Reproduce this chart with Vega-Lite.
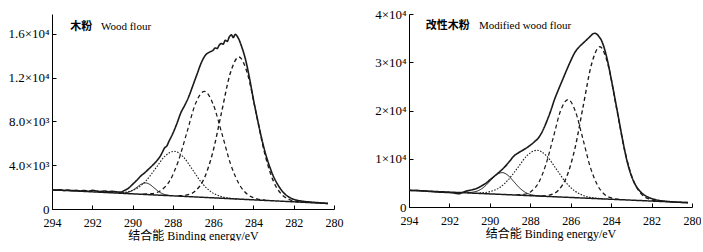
{
  "$schema": "https://vega.github.io/schema/vega-lite/v6.json",
  "background": "white",
  "padding": {"left": 7, "top": 8, "right": 0, "bottom": 0},
  "spacing": 75,
  "bounds": "flush",
  "config": {
    "view": {"stroke": null},
    "axis": {
      "grid": false, "domainColor": "#000", "tickColor": "#000", "domainWidth": 1, "tickWidth": 1, "labelFlush": false,
      "labelFont": "Liberation Serif, Times New Roman, serif", "labelFontSize": 12, "labelColor": "#000",
      "titleFont": "Liberation Serif, Times New Roman, Noto Sans CJK SC, serif", "titleFontWeight": "normal", "titleFontSize": 12, "titleColor": "#000"
    },
    "line": {"color": "#1a1a1a", "interpolate": "monotone"}
  },
  "datasets": {
    "wood": [
      {"s":"raw","E":294,"I":1760},{"s":"raw","E":293.8,"I":1720},{"s":"raw","E":293.6,"I":1750},{"s":"raw","E":293.4,"I":1690},{"s":"raw","E":293.2,"I":1730},{"s":"raw","E":293.0,"I":1680},{"s":"raw","E":292.8,"I":1700},{"s":"raw","E":292.6,"I":1640},{"s":"raw","E":292.4,"I":1690},{"s":"raw","E":292.2,"I":1620},{"s":"raw","E":292.0,"I":1700},{"s":"raw","E":291.8,"I":1650},{"s":"raw","E":291.6,"I":1600},{"s":"raw","E":291.4,"I":1640},{"s":"raw","E":291.2,"I":1580},{"s":"raw","E":291.0,"I":1610},{"s":"raw","E":290.8,"I":1560},{"s":"raw","E":290.6,"I":1540},{"s":"raw","E":290.4,"I":1700},{"s":"raw","E":290.2,"I":1900},{"s":"raw","E":290.0,"I":2250},{"s":"raw","E":289.8,"I":2600},{"s":"raw","E":289.6,"I":3000},{"s":"raw","E":289.4,"I":3300},{"s":"raw","E":289.2,"I":3650},{"s":"raw","E":289.0,"I":4000},{"s":"raw","E":288.8,"I":4400},{"s":"raw","E":288.6,"I":4900},{"s":"raw","E":288.4,"I":5600},{"s":"raw","E":288.3,"I":5750},{"s":"raw","E":288.2,"I":6150},{"s":"raw","E":288.0,"I":6900},{"s":"raw","E":287.8,"I":7800},{"s":"raw","E":287.6,"I":8800},{"s":"raw","E":287.4,"I":9500},{"s":"raw","E":287.2,"I":10300},{"s":"raw","E":287.0,"I":11300},{"s":"raw","E":286.8,"I":12300},{"s":"raw","E":286.6,"I":13300},{"s":"raw","E":286.4,"I":14000},{"s":"raw","E":286.2,"I":14300},{"s":"raw","E":286.0,"I":14500},{"s":"raw","E":285.9,"I":14700},{"s":"raw","E":285.8,"I":14650},{"s":"raw","E":285.7,"I":14950},{"s":"raw","E":285.6,"I":15100},{"s":"raw","E":285.5,"I":15050},{"s":"raw","E":285.4,"I":15400},{"s":"raw","E":285.3,"I":15300},{"s":"raw","E":285.2,"I":15700},{"s":"raw","E":285.1,"I":15900},{"s":"raw","E":285.0,"I":15650},{"s":"raw","E":284.9,"I":15950},{"s":"raw","E":284.8,"I":15750},{"s":"raw","E":284.7,"I":15400},{"s":"raw","E":284.6,"I":14900},{"s":"raw","E":284.4,"I":13700},{"s":"raw","E":284.2,"I":12000},{"s":"raw","E":284.0,"I":10000},{"s":"raw","E":283.8,"I":8200},{"s":"raw","E":283.6,"I":6500},{"s":"raw","E":283.4,"I":5050},{"s":"raw","E":283.2,"I":3900},{"s":"raw","E":283.0,"I":2950},{"s":"raw","E":282.8,"I":2250},{"s":"raw","E":282.6,"I":1700},{"s":"raw","E":282.4,"I":1300},{"s":"raw","E":282.2,"I":1050},{"s":"raw","E":282.0,"I":880},{"s":"raw","E":281.6,"I":720},{"s":"raw","E":281.2,"I":640},{"s":"raw","E":280.8,"I":580},{"s":"raw","E":280.3,"I":510},
      {"s":"base","E":294,"I":1749},{"s":"base","E":280.3,"I":500},
      {"s":"p1","E":281.71,"I":658},{"s":"p1","E":282.14,"I":812},{"s":"p1","E":282.57,"I":1276},{"s":"p1","E":283.0,"I":2501},{"s":"p1","E":283.43,"I":4996},{"s":"p1","E":283.86,"I":8691},{"s":"p1","E":284.29,"I":12310},{"s":"p1","E":284.72,"I":13873},{"s":"p1","E":285.15,"I":12388},{"s":"p1","E":285.58,"I":8847},{"s":"p1","E":286.01,"I":5231},{"s":"p1","E":286.44,"I":2815},{"s":"p1","E":286.87,"I":1668},{"s":"p1","E":287.3,"I":1282},{"s":"p1","E":287.73,"I":1206},
      {"s":"p2","E":283.39,"I":803},{"s":"p2","E":283.82,"I":928},{"s":"p2","E":284.26,"I":1286},{"s":"p2","E":284.69,"I":2210},{"s":"p2","E":285.13,"I":4083},{"s":"p2","E":285.56,"I":6851},{"s":"p2","E":286.0,"I":9563},{"s":"p2","E":286.43,"I":10739},{"s":"p2","E":286.87,"I":9642},{"s":"p2","E":287.3,"I":7009},{"s":"p2","E":287.74,"I":4321},{"s":"p2","E":288.17,"I":2528},{"s":"p2","E":288.61,"I":1683},{"s":"p2","E":289.04,"I":1404},{"s":"p2","E":289.48,"I":1358},
      {"s":"p3","E":284.75,"I":915},{"s":"p3","E":285.2,"I":992},{"s":"p3","E":285.66,"I":1167},{"s":"p3","E":286.11,"I":1581},{"s":"p3","E":286.57,"I":2393},{"s":"p3","E":287.02,"I":3582},{"s":"p3","E":287.48,"I":4746},{"s":"p3","E":287.93,"I":5266},{"s":"p3","E":288.39,"I":4829},{"s":"p3","E":288.84,"I":3748},{"s":"p3","E":289.3,"I":2642},{"s":"p3","E":289.75,"I":1913},{"s":"p3","E":290.21,"I":1582},{"s":"p3","E":290.66,"I":1490},
      {"s":"p4","E":288.09,"I":1222},{"s":"p4","E":288.3,"I":1276},{"s":"p4","E":288.51,"I":1392},{"s":"p4","E":288.72,"I":1611},{"s":"p4","E":288.93,"I":1927},{"s":"p4","E":289.14,"I":2237},{"s":"p4","E":289.35,"I":2380},{"s":"p4","E":289.56,"I":2275},{"s":"p4","E":289.77,"I":2003},{"s":"p4","E":289.98,"I":1726},{"s":"p4","E":290.19,"I":1545},{"s":"p4","E":290.4,"I":1467},{"s":"p4","E":290.61,"I":1452}
    ],
    "modified": [
      {"s":"raw","E":294,"I":3480},{"s":"raw","E":293.8,"I":3420},{"s":"raw","E":293.6,"I":3440},{"s":"raw","E":293.4,"I":3350},{"s":"raw","E":293.2,"I":3320},{"s":"raw","E":293.0,"I":3220},{"s":"raw","E":292.8,"I":3180},{"s":"raw","E":292.6,"I":3100},{"s":"raw","E":292.4,"I":3080},{"s":"raw","E":292.2,"I":3020},{"s":"raw","E":292.0,"I":2990},{"s":"raw","E":291.8,"I":2900},{"s":"raw","E":291.6,"I":2780},{"s":"raw","E":291.5,"I":2760},{"s":"raw","E":291.4,"I":2950},{"s":"raw","E":291.2,"I":3250},{"s":"raw","E":291.0,"I":3450},{"s":"raw","E":290.8,"I":3650},{"s":"raw","E":290.6,"I":3950},{"s":"raw","E":290.4,"I":4400},{"s":"raw","E":290.2,"I":4900},{"s":"raw","E":290.0,"I":5600},{"s":"raw","E":289.8,"I":6300},{"s":"raw","E":289.6,"I":7000},{"s":"raw","E":289.4,"I":7750},{"s":"raw","E":289.2,"I":8600},{"s":"raw","E":289.0,"I":9600},{"s":"raw","E":288.8,"I":10600},{"s":"raw","E":288.6,"I":11200},{"s":"raw","E":288.4,"I":11700},{"s":"raw","E":288.2,"I":12200},{"s":"raw","E":288.0,"I":12800},{"s":"raw","E":287.8,"I":13500},{"s":"raw","E":287.6,"I":14300},{"s":"raw","E":287.4,"I":15700},{"s":"raw","E":287.2,"I":17600},{"s":"raw","E":287.0,"I":19800},{"s":"raw","E":286.8,"I":22300},{"s":"raw","E":286.6,"I":24400},{"s":"raw","E":286.4,"I":26400},{"s":"raw","E":286.2,"I":28400},{"s":"raw","E":286.0,"I":30300},{"s":"raw","E":285.8,"I":32000},{"s":"raw","E":285.6,"I":33100},{"s":"raw","E":285.4,"I":33900},{"s":"raw","E":285.2,"I":34700},{"s":"raw","E":285.0,"I":35500},{"s":"raw","E":284.9,"I":35900},{"s":"raw","E":284.8,"I":36000},{"s":"raw","E":284.7,"I":35800},{"s":"raw","E":284.6,"I":35300},{"s":"raw","E":284.5,"I":34700},{"s":"raw","E":284.4,"I":33700},{"s":"raw","E":284.2,"I":30700},{"s":"raw","E":284.0,"I":26600},{"s":"raw","E":283.8,"I":22200},{"s":"raw","E":283.6,"I":17700},{"s":"raw","E":283.4,"I":13200},{"s":"raw","E":283.2,"I":9300},{"s":"raw","E":283.0,"I":6500},{"s":"raw","E":282.8,"I":4600},{"s":"raw","E":282.6,"I":3400},{"s":"raw","E":282.4,"I":2600},{"s":"raw","E":282.2,"I":2100},{"s":"raw","E":282.0,"I":1750},{"s":"raw","E":281.6,"I":1350},{"s":"raw","E":281.2,"I":1150},{"s":"raw","E":280.8,"I":1020},{"s":"raw","E":280.2,"I":900},
      {"s":"base","E":294,"I":3460},{"s":"base","E":280.2,"I":900},
      {"s":"p1","E":281.69,"I":1245},{"s":"p1","E":282.1,"I":1602},{"s":"p1","E":282.51,"I":2712},{"s":"p1","E":282.92,"I":5668},{"s":"p1","E":283.33,"I":11712},{"s":"p1","E":283.74,"I":20668},{"s":"p1","E":284.15,"I":29441},{"s":"p1","E":284.56,"I":33219},{"s":"p1","E":284.97,"I":29593},{"s":"p1","E":285.38,"I":20972},{"s":"p1","E":285.79,"I":12168},{"s":"p1","E":286.2,"I":6276},{"s":"p1","E":286.61,"I":3472},{"s":"p1","E":287.02,"I":2515},{"s":"p1","E":287.43,"I":2310},
      {"s":"p2","E":283.58,"I":1571},{"s":"p2","E":283.94,"I":1819},{"s":"p2","E":284.31,"I":2551},{"s":"p2","E":284.67,"I":4473},{"s":"p2","E":285.04,"I":8382},{"s":"p2","E":285.4,"I":14165},{"s":"p2","E":285.77,"I":19829},{"s":"p2","E":286.13,"I":22280},{"s":"p2","E":286.5,"I":19965},{"s":"p2","E":286.86,"I":14435},{"s":"p2","E":287.23,"I":8788},{"s":"p2","E":287.59,"I":5015},{"s":"p2","E":287.96,"I":3229},{"s":"p2","E":288.32,"I":2631},{"s":"p2","E":288.69,"I":2519},
      {"s":"p3","E":284.34,"I":1688},{"s":"p3","E":284.81,"I":1860},{"s":"p3","E":285.29,"I":2259},{"s":"p3","E":285.76,"I":3213},{"s":"p3","E":286.24,"I":5097},{"s":"p3","E":286.71,"I":7855},{"s":"p3","E":287.19,"I":10559},{"s":"p3","E":287.66,"I":11760},{"s":"p3","E":288.14,"I":10735},{"s":"p3","E":288.61,"I":8207},{"s":"p3","E":289.09,"I":5625},{"s":"p3","E":289.56,"I":3918},{"s":"p3","E":290.04,"I":3140},{"s":"p3","E":290.51,"I":2917},
      {"s":"p4","E":287.36,"I":2238},{"s":"p4","E":287.65,"I":2332},{"s":"p4","E":287.94,"I":2535},{"s":"p4","E":288.23,"I":3002},{"s":"p4","E":288.52,"I":3912},{"s":"p4","E":288.81,"I":5241},{"s":"p4","E":289.1,"I":6544},{"s":"p4","E":289.39,"I":7130},{"s":"p4","E":289.68,"I":6652},{"s":"p4","E":289.97,"I":5457},{"s":"p4","E":290.26,"I":4236},{"s":"p4","E":290.55,"I":3433},{"s":"p4","E":290.84,"I":3073},{"s":"p4","E":291.13,"I":2978}
    ]
  },
  "hconcat": [
    {
      "width": 282, "height": 195,
      "layer": [
        {
          "data": {"name": "wood"},
          "mark": {"type": "line"},
          "encoding": {
            "x": {"field": "E", "type": "quantitative", "scale": {"domain": [280, 294], "reverse": true, "nice": false, "zero": false},
                  "axis": {"values": [294,292,290,288,286,284,282,280], "tickSize": -4, "labelPadding": 12, "labelFlush": false, "labelFont": "Liberation Serif", "labelFontSize": 12, "title": "结合能  Binding energy/eV", "titleFont": "Liberation Serif, Noto Sans CJK SC", "titlePadding": 2}},
            "y": {"field": "I", "type": "quantitative", "scale": {"domain": [0, 17800], "nice": false},
                  "axis": {"values": [0,4000,8000,12000,16000], "tickSize": -4, "labelPadding": 7, "labelFlush": false, "labelFont": "Liberation Serif", "labelFontSize": 13, "title": null,
                           "labelExpr": "datum.value == 0 ? '0' : datum.value == 4000 ? '4.0×10³' : datum.value == 8000 ? '8.0×10³' : datum.value == 12000 ? '1.2×10⁴' : '1.6×10⁴'"}},
            "detail": {"field": "s"},
            "strokeDash": {"field": "s", "type": "nominal", "legend": null,
                           "scale": {"domain": ["raw","base","p1","p2","p3","p4"], "range": [[1,0],[1,0],[4,3],[4,3],[1.5,1.5],[1,0]]}},
            "strokeWidth": {"field": "s", "type": "nominal", "legend": null,
                            "scale": {"domain": ["raw","base","p1","p2","p3","p4"], "range": [1.6,1,1,1,1,0.8]}}
          }
        },
        {
          "data": {"values": [{"E": 293.1, "I": 16600, "t": "木粉"}]},
          "mark": {"type": "text", "align": "left", "baseline": "middle", "font": "Noto Sans CJK SC", "fontWeight": "bold", "fontSize": 11, "color": "#000"},
          "encoding": {"x": {"field": "E", "type": "quantitative"}, "y": {"field": "I", "type": "quantitative"}, "text": {"field": "t"}}
        },
        {
          "data": {"values": [{"E": 291.57, "I": 16600, "t": "Wood flour"}]},
          "mark": {"type": "text", "align": "left", "baseline": "middle", "font": "Liberation Serif", "fontSize": 11, "color": "#000"},
          "encoding": {"x": {"field": "E", "type": "quantitative"}, "y": {"field": "I", "type": "quantitative"}, "text": {"field": "t"}}
        }
      ]
    },
    {
      "width": 283, "height": 193,
      "layer": [
        {
          "data": {"name": "modified"},
          "mark": {"type": "line"},
          "encoding": {
            "x": {"field": "E", "type": "quantitative", "scale": {"domain": [280, 294], "reverse": true, "nice": false, "zero": false},
                  "axis": {"values": [294,292,290,288,286,284,282,280], "tickSize": -4, "labelPadding": 12, "labelFlush": false, "labelFont": "Liberation Serif", "labelFontSize": 12, "title": "结合能  Binding energy/eV", "titleFont": "Liberation Serif, Noto Sans CJK SC", "titlePadding": 2}},
            "y": {"field": "I", "type": "quantitative", "scale": {"domain": [0, 40000], "nice": false},
                  "axis": {"values": [0,10000,20000,30000,40000], "tickSize": -4, "labelPadding": 7, "labelFlush": false, "labelFont": "Liberation Serif", "labelFontSize": 13, "title": null,
                           "labelExpr": "datum.value == 0 ? '0' : datum.value == 10000 ? '1×10⁴' : datum.value == 20000 ? '2×10⁴' : datum.value == 30000 ? '3×10⁴' : '4×10⁴'"}},
            "detail": {"field": "s"},
            "strokeDash": {"field": "s", "type": "nominal", "legend": null,
                           "scale": {"domain": ["raw","base","p1","p2","p3","p4"], "range": [[1,0],[1,0],[4,3],[4,3],[1.5,1.5],[1,0]]}},
            "strokeWidth": {"field": "s", "type": "nominal", "legend": null,
                            "scale": {"domain": ["raw","base","p1","p2","p3","p4"], "range": [1.6,1,1,1,1,0.8]}}
          }
        },
        {
          "data": {"values": [{"E": 293.17, "I": 37500, "t": "改性木粉"}]},
          "mark": {"type": "text", "align": "left", "baseline": "middle", "font": "Noto Sans CJK SC", "fontWeight": "bold", "fontSize": 11, "color": "#000"},
          "encoding": {"x": {"field": "E", "type": "quantitative"}, "y": {"field": "I", "type": "quantitative"}, "text": {"field": "t"}}
        },
        {
          "data": {"values": [{"E": 290.54, "I": 37500, "t": "Modified wood flour"}]},
          "mark": {"type": "text", "align": "left", "baseline": "middle", "font": "Liberation Serif", "fontSize": 11, "color": "#000"},
          "encoding": {"x": {"field": "E", "type": "quantitative"}, "y": {"field": "I", "type": "quantitative"}, "text": {"field": "t"}}
        }
      ]
    }
  ]
}
